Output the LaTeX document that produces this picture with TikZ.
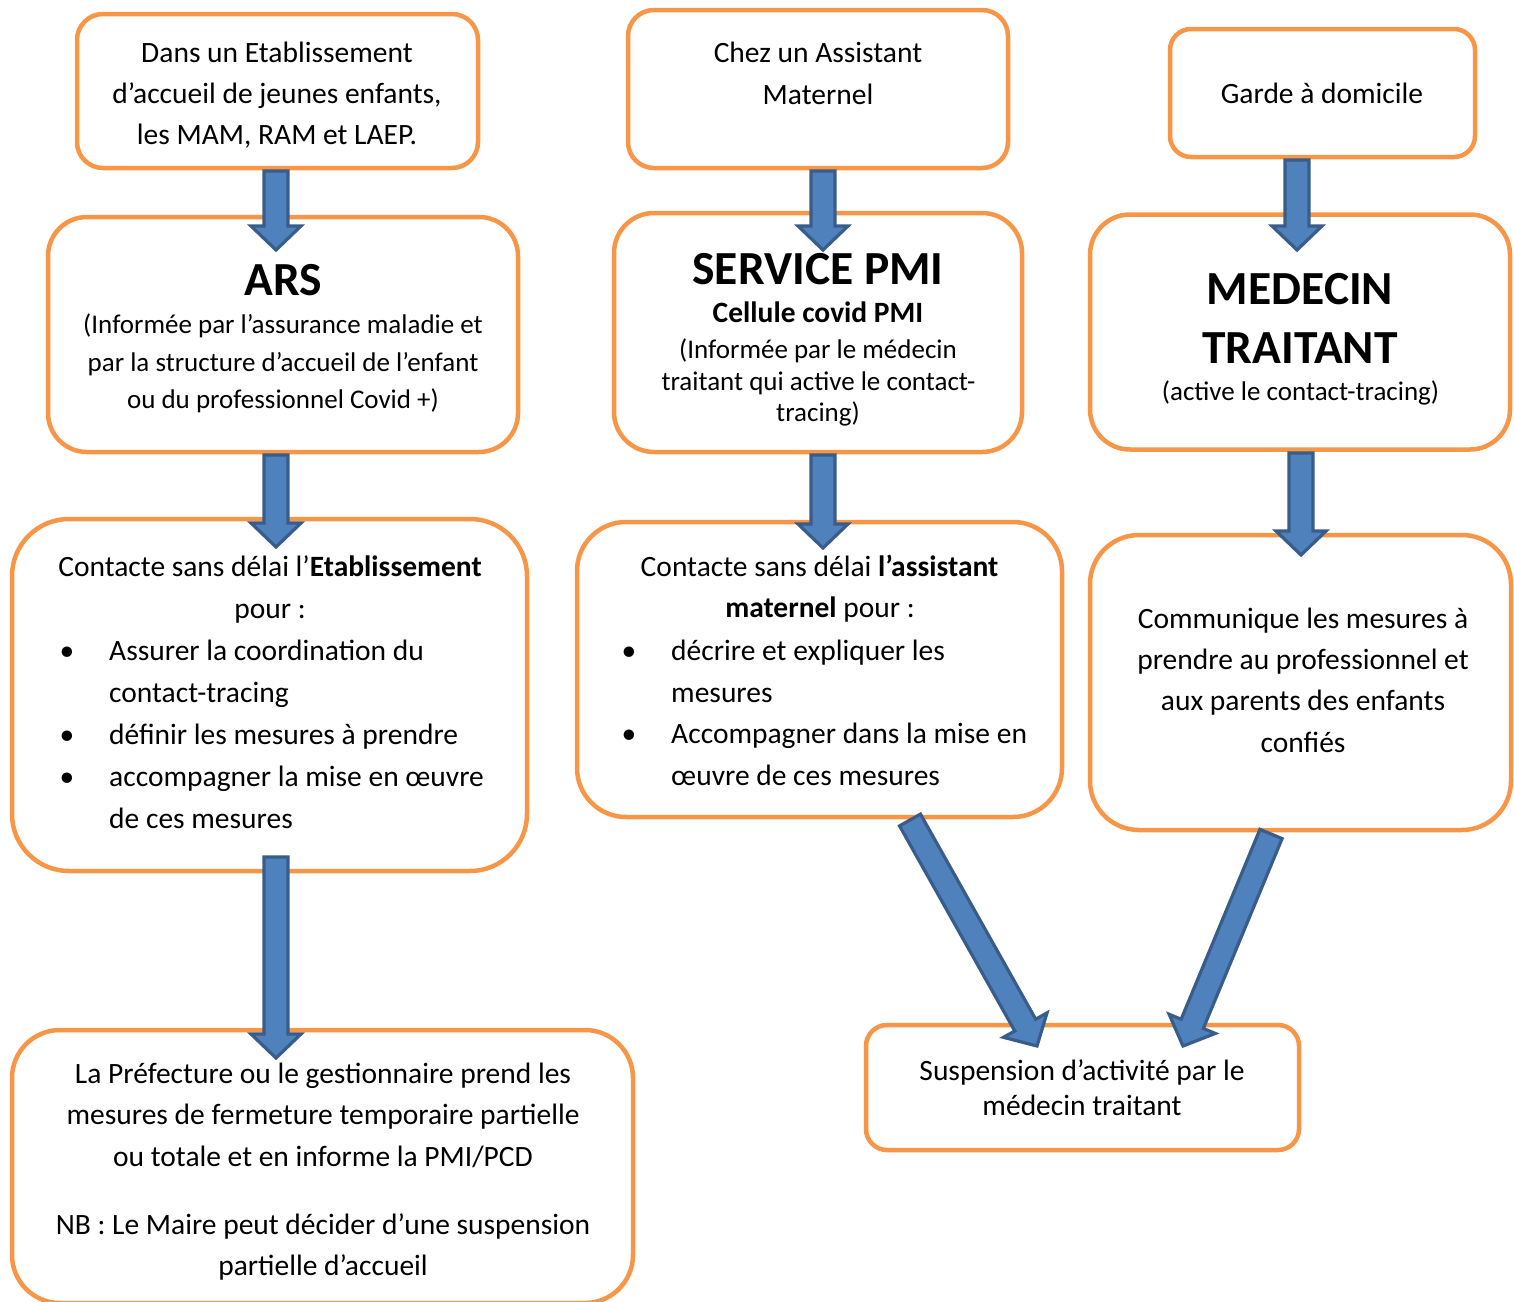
\documentclass[tikz,border=0pt]{standalone}
\usepackage{fontspec}
\setmainfont{Carlito}
\usetikzlibrary{calc}
\definecolor{boxorange}{HTML}{F79646}
\definecolor{arrfill}{HTML}{4F81BD}
\definecolor{arrline}{HTML}{385D8A}
\newcommand{\fmain}{\fontsize{29.5}{35}\selectfont}
\newcommand{\fsub}{\fontsize{27}{32}\selectfont}
\newcommand{\ftitle}{\fontsize{47.5}{56}\selectfont\bfseries}
\newcommand{\blockarrow}[2]{%
  \coordinate (ba-h) at ($(#2)!24pt!(#1)$);
  \draw[barrow] ($(#1)!12pt!90:(#2)$) -- ($(ba-h)!12pt!-90:(#1)$) -- ($(ba-h)!25pt!-90:(#1)$) -- (#2)
    -- ($(ba-h)!25pt!90:(#1)$) -- ($(ba-h)!12pt!90:(#1)$) -- ($(#1)!12pt!-90:(#2)$) -- cycle;}
\begin{document}
\begin{tikzpicture}[x=1pt,y=-1pt,
  box/.style={draw=boxorange, line width=4.5pt, fill=white, rectangle, inner sep=0pt},
  barrow/.style={fill=arrfill, draw=arrline, line width=3.2pt, line join=miter},
  txt/.style={inner sep=0pt, anchor=base, font=\fmain},
  ltxt/.style={txt, anchor=base west},
  subtxt/.style={txt, font=\fsub},
  ttl/.style={txt, font=\ftitle}]
\useasboundingbox (0,0) rectangle (1514,1301);

% boxes
\node[box, minimum width=401pt, minimum height=154pt, rounded corners=26pt] (A) at (277.5,91) {};
\node[box, minimum width=380pt, minimum height=158pt, rounded corners=26pt] (B) at (818,89) {};
\node[box, minimum width=305pt, minimum height=128pt, rounded corners=21pt] (C) at (1322.5,93) {};
\node[box, minimum width=470pt, minimum height=235pt, rounded corners=39pt] (ARS) at (283,334.5) {};
\node[box, minimum width=408pt, minimum height=239pt, rounded corners=40pt] (PMI) at (818,332.5) {};
\node[box, minimum width=420pt, minimum height=235pt, rounded corners=40pt] (MED) at (1300,332) {};
\node[box, minimum width=515pt, minimum height=352pt, rounded corners=57pt] (CE) at (269.5,695) {};
\node[box, minimum width=485pt, minimum height=295pt, rounded corners=49pt] (CA) at (819.5,669.5) {};
\node[box, minimum width=421pt, minimum height=295pt, rounded corners=49pt] (COM) at (1300.5,682.5) {};
\node[box, minimum width=621pt, minimum height=273pt, rounded corners=48pt] (PREF) at (322.5,1166.5) {};
\node[box, minimum width=433pt, minimum height=125pt, rounded corners=21pt] (SUSP) at (1082.5,1087.5) {};

% texts
\node[txt] (tA1) at (277,62) {Dans un Etablissement};
\node[txt] (tA2) at (277,103) {d’accueil de jeunes enfants,};
\node[txt] (tA3) at (277,144) {les MAM, RAM et LAEP.};

\node[txt] (tB1) at (818,62) {Chez un Assistant};
\node[txt] (tB2) at (818,104) {Maternel};

\node[txt] (tC1) at (1322,103) {Garde à domicile};

\node[ttl] (tARS) at (283,295) {ARS};
\node[subtxt] (tARS1) at (283,333) {(Informée par l’assurance maladie et};
\node[subtxt] (tARS2) at (283,371) {par la structure d’accueil de l’enfant};
\node[subtxt] (tARS3) at (283,408) {ou du professionnel Covid +)};

\node[ttl] (tPMI) at (818,284) {SERVICE PMI};
\node[txt, font=\fmain\bfseries] (tPMI0) at (818,322) {Cellule covid PMI};
\node[subtxt] (tPMI1) at (818,358) {(Informée par le médecin};
\node[subtxt] (tPMI2) at (818.5,390) {traitant qui active le contact-};
\node[subtxt] (tPMI3) at (818,421) {tracing)};

\node[ttl] (tMED1) at (1300,304) {MEDECIN};
\node[ttl] (tMED2) at (1300,363) {TRAITANT};
\node[subtxt] (tMED3) at (1300.5,400) {(active le contact-tracing)};

\node[txt] (tCE1) at (270,576) {Contacte sans délai l’\textbf{Etablissement}};
\node[txt] (tCE2) at (270,618) {pour :};
\node[txt] (bCE1) at (67,660) {•};
\node[txt] (bCE2) at (67,744) {•};
\node[txt] (bCE3) at (67,786) {•};
\node[ltxt] (tCE3) at (109,660) {Assurer la coordination du};
\node[ltxt] (tCE4) at (109,702) {contact-tracing};
\node[ltxt] (tCE5) at (109,744) {définir les mesures à prendre};
\node[ltxt] (tCE6) at (109,786) {accompagner la mise en œuvre};
\node[ltxt] (tCE7) at (109,828) {de ces mesures};

\node[txt] (tCA1) at (819.5,576) {Contacte sans délai \textbf{l’assistant}};
\node[txt] (tCA2) at (820,617) {\textbf{maternel} pour :};
\node[txt] (bCA1) at (629,660) {•};
\node[txt] (bCA2) at (629,743) {•};
\node[ltxt] (tCA3) at (671,660) {décrire et expliquer les};
\node[ltxt] (tCA4) at (671,702) {mesures};
\node[ltxt] (tCA5) at (671,743) {Accompagner dans la mise en};
\node[ltxt] (tCA6) at (671,785) {œuvre de ces mesures};

\node[txt] (tCOM1) at (1303,628) {Communique les mesures à};
\node[txt] (tCOM2) at (1303,669) {prendre au professionnel et};
\node[txt] (tCOM3) at (1303,710) {aux parents des enfants};
\node[txt] (tCOM4) at (1303,752) {confiés};

\node[txt] (tPR1) at (323,1083) {La Préfecture ou le gestionnaire prend les};
\node[txt] (tPR2) at (323,1124) {mesures de fermeture temporaire partielle};
\node[txt] (tPR3) at (323,1166) {ou totale et en informe la PMI/PCD};
\node[txt] (tPR4) at (323,1234) {NB : Le Maire peut décider d’une suspension};
\node[txt] (tPR5) at (323,1275) {partielle d’accueil};

\node[txt] (tS1) at (1082,1080) {Suspension d’activité par le};
\node[txt] (tS2) at (1082,1115) {médecin traitant};

% arrow end points
\coordinate (a1s) at (276,171);  \coordinate (a1t) at (276,250);
\coordinate (a2s) at (823,171);  \coordinate (a2t) at (823,250);
\coordinate (a3s) at (1297,160); \coordinate (a3t) at (1297,250);
\coordinate (a4s) at (276,455);  \coordinate (a4t) at (276,547);
\coordinate (a5s) at (823,455);  \coordinate (a5t) at (823,548);
\coordinate (a6s) at (1301,453); \coordinate (a6t) at (1301,555);
\coordinate (a7s) at (276,857);  \coordinate (a7t) at (276,1058);
\coordinate (a8s) at (910,820);  \coordinate (a8t) at (1037,1046);
\coordinate (a9s) at (1271,834); \coordinate (a9t) at (1183,1046);

\blockarrow{a1s}{a1t}
\blockarrow{a2s}{a2t}
\blockarrow{a3s}{a3t}
\blockarrow{a4s}{a4t}
\blockarrow{a5s}{a5t}
\blockarrow{a6s}{a6t}
\blockarrow{a7s}{a7t}
\blockarrow{a8s}{a8t}
\blockarrow{a9s}{a9t}
\end{tikzpicture}
\end{document}
